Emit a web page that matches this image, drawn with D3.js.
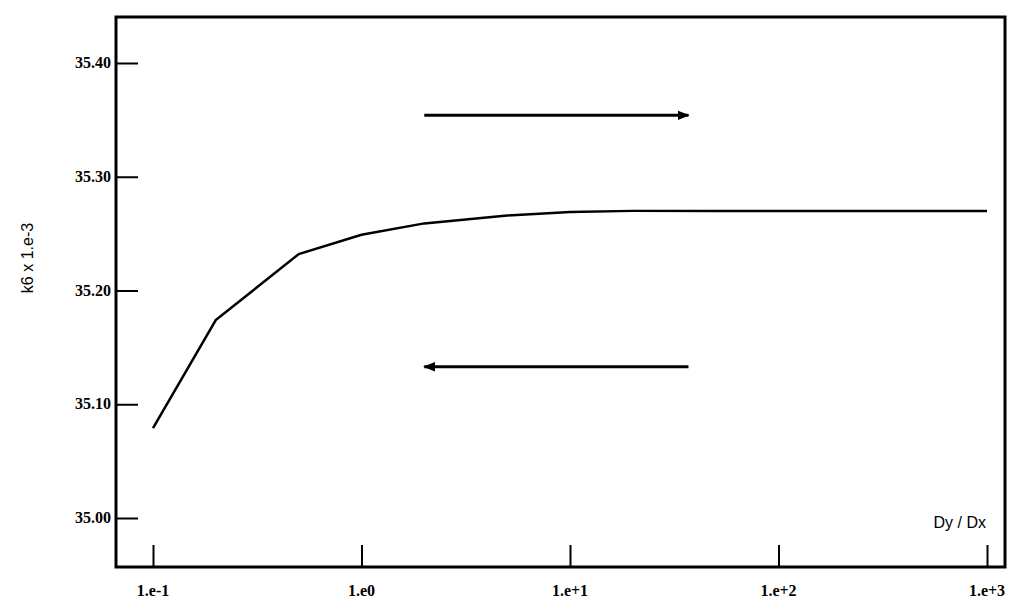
<!DOCTYPE html>
<html>
<head>
<meta charset="utf-8">
<script src="https://cdn.jsdelivr.net/npm/d3@7"></script>
<style>
  body { margin: 0; background: #fff; }
  .tick-label { font-family: "Liberation Serif", serif; font-weight: bold; font-size: 16px; }
  .axis-title { font-family: "Liberation Sans", Arial, sans-serif; font-size: 16px; }
</style>
</head>
<body>
<svg id="chart"></svg>
<script>
// data
const ratio = [0.1, 0.2, 0.5, 1, 2, 5, 10, 20, 50, 100, 200, 500, 1000];
const k6 = [35.079, 35.174, 35.232, 35.249, 35.259, 35.266, 35.269, 35.270, 35.270, 35.270, 35.270, 35.270, 35.270];
const xTicks = [0.1, 1, 10, 100, 1000];
const xTickLabels = ['1.e-1', '1.e0', '1.e+1', '1.e+2', '1.e+3'];
const yTicks = [35.00, 35.10, 35.20, 35.30, 35.40];
// arrows: [from, to, level]
const arrows = [
  [2, 37, 35.354],
  [37, 2, 35.133]
];

const width = 1024, height = 609;
const svg = d3.select('#chart').attr('width', width).attr('height', height);

// frame box
const frame = { left: 116, right: 1005, top: 17, bottom: 567 };

const x = d3.scaleLog().domain([0.1, 1000]).range([153, 987]);
const y = d3.scaleLinear().domain([35.00, 35.40]).range([518, 63]);

svg.append('defs').append('marker')
    .attr('id', 'head')
    .attr('viewBox', '0 0 10 10')
    .attr('refX', 9).attr('refY', 5)
    .attr('markerWidth', 4).attr('markerHeight', 4)
    .attr('orient', 'auto')
  .append('path')
    .attr('d', 'M0,1 L10,5 L0,9 z')
    .attr('fill', '#000');

svg.append('rect')
    .attr('x', frame.left).attr('y', frame.top)
    .attr('width', frame.right - frame.left)
    .attr('height', frame.bottom - frame.top)
    .attr('fill', 'none')
    .attr('stroke', '#000')
    .attr('stroke-width', 3);

// y axis: ticks pointing inward
const yAxis = d3.axisRight(y)
    .tickValues(yTicks)
    .tickSize(22)
    .tickFormat('');
const gy = svg.append('g').attr('transform', `translate(${frame.left},0)`).call(yAxis);
gy.select('.domain').remove();
gy.selectAll('.tick line').attr('stroke-width', 2);

svg.append('g').selectAll('text')
    .data(yTicks)
    .join('text')
    .attr('class', 'tick-label')
    .attr('x', frame.left - 5)
    .attr('y', d => y(d))
    .attr('dy', '0.32em')
    .attr('text-anchor', 'end')
    .text(d => d.toFixed(2));

// x axis: ticks pointing up
const xAxis = d3.axisTop(x)
    .tickValues(xTicks)
    .tickSize(22)
    .tickFormat('');
const gx = svg.append('g').attr('transform', `translate(0,${frame.bottom})`).call(xAxis);
gx.select('.domain').remove();
gx.selectAll('.tick line').attr('stroke-width', 2);

svg.append('g').selectAll('text')
    .data(xTicks)
    .join('text')
    .attr('class', 'tick-label')
    .attr('x', d => x(d))
    .attr('y', 591)
    .attr('dy', '0.32em')
    .attr('text-anchor', 'middle')
    .text((d, i) => xTickLabels[i]);

// titles
svg.append('text')
    .attr('class', 'axis-title')
    .attr('transform', 'translate(28,258) rotate(-90)')
    .attr('text-anchor', 'middle')
    .attr('dy', '0.32em')
    .text('k6 x 1.e-3');

svg.append('text')
    .attr('class', 'axis-title')
    .attr('x', 986)
    .attr('y', 523)
    .attr('dy', '0.32em')
    .attr('text-anchor', 'end')
    .text('Dy / Dx');

// curve
const line = d3.line()
    .x((d, i) => x(ratio[i]))
    .y(d => y(d));

svg.append('path')
    .datum(k6)
    .attr('d', line)
    .attr('fill', 'none')
    .attr('stroke', '#000')
    .attr('stroke-width', 2.5);

// direction arrows
svg.append('g').selectAll('line')
    .data(arrows)
    .join('line')
    .attr('x1', d => x(d[0]))
    .attr('x2', d => x(d[1]))
    .attr('y1', d => y(d[2]))
    .attr('y2', d => y(d[2]))
    .attr('stroke', '#000')
    .attr('stroke-width', 3)
    .attr('marker-end', 'url(#head)');
</script>
</body>
</html>
